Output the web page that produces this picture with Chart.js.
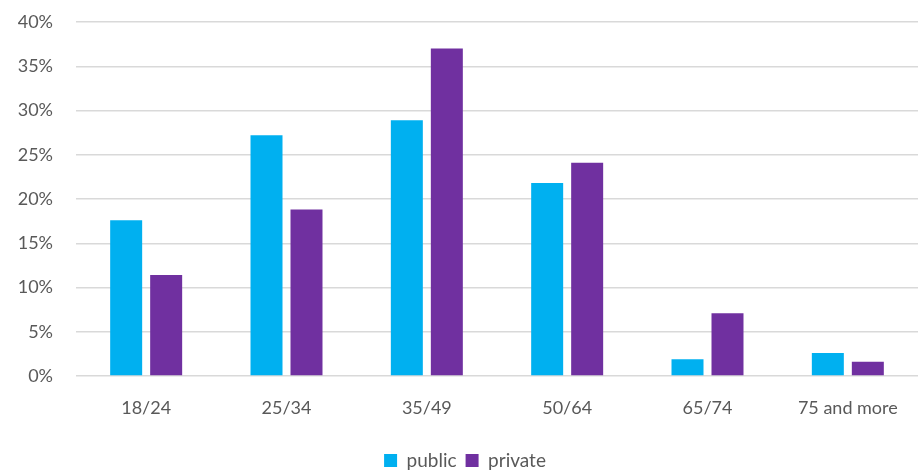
<!DOCTYPE html>
<html>
<head>
<meta charset="utf-8">
<script src="https://cdn.jsdelivr.net/npm/chart.js@4"></script>
<style>
  html, body { margin: 0; padding: 0; background: #fff; }
  #wrap { width: 918px; height: 472px; }
</style>
</head>
<body>
<div id="wrap"><canvas id="myChart"></canvas></div>
<script>
const categories = ["18/24", "25/34", "35/49", "50/64", "65/74", "75 and more"];
const publicValues = [17.6, 27.2, 28.9, 21.8, 1.9, 2.6];
const privateValues = [11.4, 18.8, 37.0, 24.1, 7.1, 1.6];
const yTicks = [0, 5, 10, 15, 20, 25, 30, 35, 40];

const ctx = document.getElementById("myChart");

new Chart(ctx, {
  type: "bar",
  data: {
    labels: categories,
    datasets: [
      {
        label: "public",
        data: publicValues,
        backgroundColor: "#00B0F0",
        barPercentage: 0.8,
        categoryPercentage: 0.57,
      },
      {
        label: "private",
        data: privateValues,
        backgroundColor: "#7030A0",
        barPercentage: 0.8,
        categoryPercentage: 0.57,
      },
    ],
  },
  options: {
    responsive: true,
    maintainAspectRatio: false,
    animation: false,
    layout: {
      padding: { top: 22, left: 12, right: 0, bottom: -8 },
    },
    plugins: {
      legend: {
        position: "bottom",
        labels: {
          boxWidth: 13,
          boxHeight: 13,
          padding: 9,
          color: "#595959",
          font: { family: "Lato", size: 19 },
        },
      },
      tooltip: { enabled: false },
    },
    scales: {
      x: {
        grid: { display: false },
        border: { display: false },
        afterFit: (axis) => {
          axis.height = 66;
        },
        ticks: {
          color: "#595959",
          padding: 13,
          font: { family: "Lato", size: 18 },
        },
      },
      y: {
        min: 0,
        max: 40,
        afterBuildTicks: (axis) => {
          axis.ticks = yTicks.map((v) => ({ value: v }));
        },
        afterFit: (axis) => {
          axis.width = 64;
          axis.paddingTop = 0;
          axis.paddingBottom = 0;
        },
        grid: { color: "#D9D9D9", lineWidth: 1.5, drawTicks: false },
        border: { display: false },
        ticks: {
          color: "#595959",
          padding: 23,
          font: { family: "Lato", size: 18 },
          callback: (v) => v + "%",
        },
      },
    },
  },
});
</script>
</body>
</html>
